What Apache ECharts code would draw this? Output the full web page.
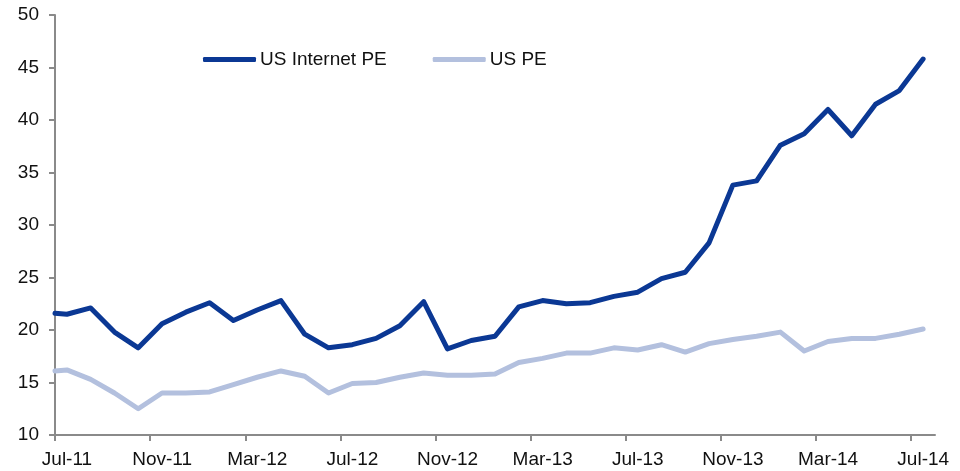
<!DOCTYPE html>
<html>
<head>
<meta charset="utf-8">
<script src="https://cdn.jsdelivr.net/npm/echarts@6/dist/echarts.min.js"></script>
<style>
    html, body { margin: 0; padding: 0; background: #fff; }
    #chartLineBox { width: 960px; height: 471px; }
</style>
</head>
<body>
<div id="chartLineBox"></div>
<script>
// months after Jul-11 (first point on the Jul-11 tick, then mid-month)
var monthPos = [0, 0.5, 1.5, 2.5, 3.5, 4.5, 5.5, 6.5, 7.5, 8.5, 9.5, 10.5, 11.5, 12.5,
    13.5, 14.5, 15.5, 16.5, 17.5, 18.5, 19.5, 20.5, 21.5, 22.5, 23.5, 24.5, 25.5, 26.5,
    27.5, 28.5, 29.5, 30.5, 31.5, 32.5, 33.5, 34.5, 35.5, 36.5];
var internetPE = [21.6, 21.5, 22.1, 19.8, 18.3, 20.6, 21.7, 22.6, 20.9, 21.9, 22.8, 19.6, 18.3,
    18.6, 19.2, 20.4, 22.7, 18.2, 19.0, 19.4, 22.2, 22.8, 22.5, 22.6, 23.2, 23.6, 24.9, 25.5,
    28.3, 33.8, 34.2, 37.6, 38.7, 41.0, 38.5, 41.5, 42.8, 45.8];
var usPE = [16.1, 16.2, 15.3, 14.0, 12.5, 14.0, 14.0, 14.1, 14.8, 15.5, 16.1, 15.6, 14.0,
    14.9, 15.0, 15.5, 15.9, 15.7, 15.7, 15.8, 16.9, 17.3, 17.8, 17.8, 18.3, 18.1, 18.6, 17.9,
    18.7, 19.1, 19.4, 19.8, 18.0, 18.9, 19.2, 19.2, 19.6, 20.1];
var tickLabels = ['Jul-11', 'Nov-11', 'Mar-12', 'Jul-12', 'Nov-12', 'Mar-13', 'Jul-13', 'Nov-13', 'Mar-14', 'Jul-14'];

var font = 'Arial, "Liberation Sans", sans-serif';
var axisGrey = '#8a8a8a';

function pairs(vals) {
    var out = [];
    for (var i = 0; i < vals.length; i++) {
        out.push([monthPos[i], vals[i]]);
    }
    return out;
}
var tickVals = [];
for (var k = 0; k < tickLabels.length; k++) {
    tickVals.push(k * 4);
}

var chartLine = echarts.init(document.getElementById('chartLineBox'));
var option = {
    animation: false,
    grid: { left: 55, right: 25, top: 15, bottom: 36 },
    legend: {
        left: 203,
        top: 50,
        padding: 0,
        itemWidth: 53,
        itemHeight: 5,
        itemGap: 46,
        icon: 'roundRect',
        textStyle: { fontFamily: font, fontSize: 19, color: '#111', padding: [0, 0, 0, -1] },
        data: ['US Internet PE', 'US PE']
    },
    xAxis: {
        type: 'value',
        min: 0,
        max: 37,
        interval: 4,
        axisLine: { lineStyle: { color: axisGrey, width: 2 } },
        axisTick: { show: true, length: 6, customValues: tickVals, lineStyle: { color: axisGrey, width: 2 } },
        splitLine: { show: false },
        axisLabel: {
            customValues: tickVals,
            margin: 15,
            padding: [0, 0, 0, 24],
            fontFamily: font,
            fontSize: 19,
            color: '#111',
            formatter: function (v) {
                return tickLabels[Math.round(v / 4)] || '';
            }
        }
    },
    yAxis: {
        type: 'value',
        min: 10,
        max: 50,
        interval: 5,
        axisLine: { show: true, lineStyle: { color: axisGrey, width: 2 } },
        axisTick: { show: true, length: 6, lineStyle: { color: axisGrey, width: 2 } },
        splitLine: { show: false },
        axisLabel: { margin: 16, fontFamily: font, fontSize: 19, color: '#111' }
    },
    series: [
        {
            name: 'US PE',
            type: 'line',
            data: pairs(usPE),
            symbol: 'none',
            z: 2,
            itemStyle: { color: '#b3c0de' },
            lineStyle: { color: '#b3c0de', width: 5, cap: 'round', join: 'round' }
        },
        {
            name: 'US Internet PE',
            type: 'line',
            data: pairs(internetPE),
            symbol: 'none',
            z: 3,
            itemStyle: { color: '#0b3894' },
            lineStyle: { color: '#0b3894', width: 5, cap: 'round', join: 'round' }
        }
    ]
};
chartLine.setOption(option);
</script>
</body>
</html>
